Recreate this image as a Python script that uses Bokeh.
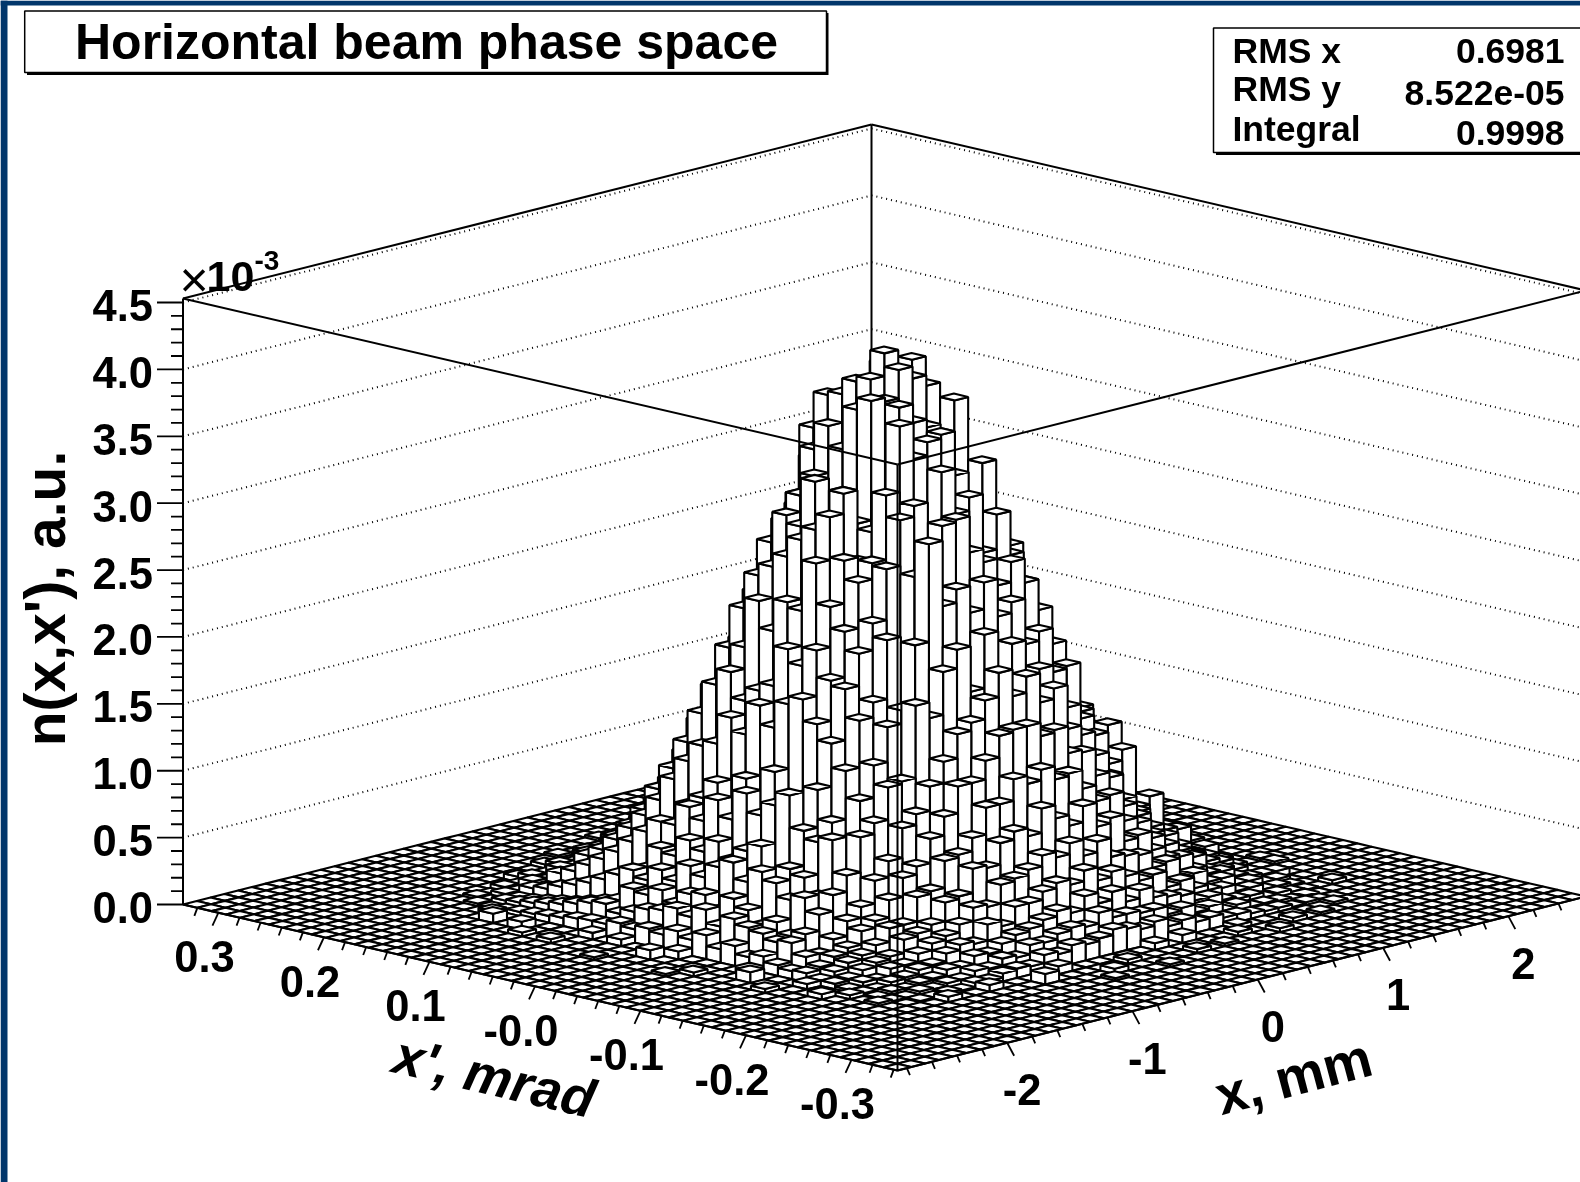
import numpy as np
from bokeh.plotting import figure
from bokeh.models import Range1d
from bokeh.core.properties import value
from bokeh.embed import file_html
from bokeh.resources import INLINE

title_text = "Horizontal beam phase space"
stat_names = ["RMS x", "RMS y", "Integral"]
stat_values = ["0.6981", "8.522e-05", "0.9998"]
z_ticks = [0.0, 0.5, 1.0, 1.5, 2.0, 2.5, 3.0, 3.5, 4.0, 4.5]
z_labels = ["0.0", "0.5", "1.0", "1.5", "2.0", "2.5", "3.0", "3.5", "4.0", "4.5"]
xp_ticks = [0.3, 0.2, 0.1, 0.0, -0.1, -0.2, -0.3]
xp_labels = ["0.3", "0.2", "0.1", "-0.0", "-0.1", "-0.2", "-0.3"]
x_ticks = [-2, -1, 0, 1, 2]
x_labels = ["-2", "-1", "0", "1", "2"]

# axis limits: x' (mrad), x (mm), n (1e-3 a.u.)
XP_BACK, XP_FRONT = 0.3336, -0.3436
X_FRONT, X_BACK = -2.875, 2.62
Z_MAX = 4.53
N_BINS = 50
I0, J0 = 9, 10  # first bin of the main patch

# bin contents in 1e-5 a.u.; row = x' bin, column = x bin
heights = [
[0,2,1,4,3,7,6,11,9,16,13,20,16,25,19,27,20,24,18,23,15,19,11,14,8,10,5,6,2,3,1,1],
[2,1,4,3,8,6,13,11,19,16,27,22,33,26,37,29,38,28,35,33,22,27,17,20,11,14,7,9,4,5,2,1],
[1,4,3,8,6,14,11,22,18,31,26,41,34,47,40,52,42,49,38,45,31,37,24,28,16,18,10,11,5,6,2,3],
[2,5,4,10,9,18,15,29,25,42,36,55,46,64,54,70,57,68,52,61,44,50,33,37,22,25,14,15,7,8,3,4],
[3,7,6,14,12,25,21,39,34,56,48,73,62,88,71,94,76,92,70,83,58,68,45,50,30,34,18,20,10,11,4,5],
[4,9,8,18,16,32,28,50,45,74,63,96,80,115,92,124,98,120,92,108,76,88,58,65,40,43,24,26,14,14,6,7],
[5,11,10,22,20,40,35,62,56,92,80,122,104,146,118,158,124,150,118,138,98,112,74,82,50,54,31,33,17,18,8,9],
[6,14,13,27,25,50,45,76,70,114,100,150,128,180,148,196,156,190,146,170,122,138,92,100,62,68,38,41,21,22,10,11],
[8,17,16,33,31,60,54,94,84,138,120,182,152,218,178,238,186,230,176,206,148,166,112,122,75,82,46,49,26,27,12,13],
[9,19,19,39,37,70,64,110,100,162,142,214,180,258,208,280,220,270,206,242,172,196,132,142,88,96,54,58,30,32,15,15],
[9,14,30,34,55,70,82,124,118,172,165,228,214,276,262,318,268,322,246,262,214,206,150,160,108,92,74,55,46,28,22,12],
[12,18,28,44,52,86,90,128,179,195,246,236,268,298,346,330,340,296,330,268,250,240,172,182,116,122,80,60,52,34,18,20],
[10,22,34,38,66,78,104,150,160,232,255,291,303,335,373,350,360,336,350,290,300,246,220,196,124,134,70,82,38,42,26,14],
[13,24,26,52,60,96,88,140,170,212,265,285,320,355,376,368,380,350,376,330,280,276,210,222,140,120,92,68,56,34,24,18],
[11,28,36,46,70,84,112,164,176,236,280,321,300,340,388,380,396,370,390,340,322,280,248,212,128,148,84,90,44,48,20,24],
[16,24,38,56,58,106,98,150,206,232,290,296,312,372,392,409,372,399,345,350,300,290,226,232,158,130,104,76,58,36,30,16],
[12,32,28,62,68,92,122,170,196,270,302,317,292,381,378,399,390,382,342,360,298,280,230,224,146,156,86,92,46,52,22,26],
[18,22,40,50,74,102,100,176,210,240,272,268,288,310,376,362,356,348,371,300,316,256,252,206,150,138,110,72,62,38,26,18],
[10,30,34,60,56,112,108,160,190,224,258,270,318,367,340,350,353,320,300,324,270,250,220,196,138,148,84,92,44,50,28,22],
[15,26,24,54,62,88,116,148,186,210,230,268,302,310,286,330,296,306,262,288,234,232,180,176,134,128,96,70,52,40,20,24],
[9,24,30,44,58,82,94,130,165,176,220,210,262,240,295,297,270,260,240,255,237,214,186,160,130,116,74,84,40,42,24,16],
[12,20,22,48,46,86,82,110,134,160,170,216,289,240,250,230,250,222,230,196,203,170,172,130,110,120,72,60,46,30,22,18],
[8,22,26,38,50,62,88,96,120,122,176,164,196,210,176,216,184,204,170,180,136,146,118,120,96,104,58,64,36,34,14,16],
[6,14,13,22,33,41,58,70,92,100,118,134,152,158,172,190,170,182,160,168,135,128,110,92,72,60,46,36,27,18,14,9],
[7,9,14,18,28,33,46,60,66,84,98,118,118,132,148,150,150,140,142,122,120,100,96,72,62,46,42,28,22,15,12,7],
[4,8,12,15,20,30,30,48,50,70,72,82,102,102,118,112,120,110,112,98,86,88,66,62,48,40,28,26,14,12,9,5],
[4,5,9,12,14,24,26,30,44,46,64,62,78,84,78,96,86,78,90,72,76,56,58,44,36,34,22,16,15,9,6,5],
[2,5,4,10,10,16,21,24,30,40,38,52,54,58,66,62,70,58,66,52,50,48,36,38,22,24,15,15,8,8,4,4],
[2,2,5,6,9,10,16,20,18,30,26,38,38,44,48,44,52,42,46,40,34,36,24,26,18,14,13,8,8,4,4,2],
[1,3,2,4,5,9,8,14,13,18,22,24,28,32,28,38,30,36,26,32,24,22,20,14,14,9,7,7,3,4,2,1],
[1,1,3,2,4,4,8,7,12,10,17,16,20,22,20,28,22,22,20,20,14,16,10,12,6,8,4,4,3,1,2,0],
[0,1,1,2,1,4,3,6,7,6,12,10,14,12,14,18,16,13,16,10,12,8,9,6,6,4,3,3,1,2,1,0],
]

# sparse low counts around the main patch: bin indices and contents (1e-5 a.u.)
outer_i = [7,8,6,8,7,5,8,6,7,8, 6,8,7,5,8,7,6,8, 41,42,41,43,42,41,44,42,41,43, 42,41,43,41,42,44,41,43,
           12,15,18,21,24,27,30,33,36,39, 11,14,17,20,23,26,29,32,35,38, 13,16,19,22,25,28,31,34,37, 15,18,21,24,27,30,33]
outer_j = [18,22,25,28,31,24,35,20,27,38, 33,15,40,29,26,21,37,30, 20,24,27,30,18,33,25,36,15,22, 38,29,28,12,32,21,40,34,
           9,8,7,9,8,6,9,7,8,9, 42,43,44,42,45,43,42,44,42,43, 8,7,9,6,9,7,8,9,9, 43,42,44,45,43,42,44]
outer_h = [3,5,4,6,3,2,4,2,5,3, 2,4,2,1,7,3,2,5, 6,3,5,2,8,3,2,3,5,4, 2,6,3,4,3,2,2,3,
           4,6,3,5,7,2,5,3,4,2, 6,3,2,5,2,4,6,2,5,3, 7,3,5,2,6,3,8,4,3, 2,5,2,1,4,6,2]

# projection corners on the page
L0 = np.array([182.5, 904.0])   # x'=XP_BACK, x=X_FRONT, z=0
F0 = np.array([897.0, 1070.0])  # x'=XP_FRONT, x=X_FRONT
B0 = np.array([871.0, 730.0])   # x'=XP_BACK, x=X_BACK
Z_PX = 606.0

def proj(xp, xm, z):
    a = (XP_BACK - xp) / (XP_BACK - XP_FRONT)
    b = (xm - X_FRONT) / (X_BACK - X_FRONT)
    pt = L0 + a * (F0 - L0) + b * (B0 - L0)
    return pt[0], pt[1] - z / Z_MAX * Z_PX

FONT = value("Liberation Sans")
BLUE = "#01366b"

p = figure(width=1580, height=1182, x_range=Range1d(0, 1580), y_range=Range1d(1182, 0),
           toolbar_location=None, output_backend="svg", min_border=0)
p.axis.visible = False
p.grid.visible = False
p.outline_line_color = None
p.background_fill_color = "white"
p.border_fill_color = "white"
p.styles = {"position": "fixed", "left": "0px", "top": "0px"}

def segs(pairs, **kw):
    p.multi_line([[a[0], b[0]] for a, b in pairs], [[a[1], b[1]] for a, b in pairs],
                 line_color="black", **kw)

# page frame
p.quad(left=[0, 0], right=[7, 1580], top=[0, 0], bottom=[1182, 5], fill_color=BLUE, line_color=None)

# back walls
dotted = []
for z in z_ticks[1:]:
    dotted.append((proj(XP_BACK, X_FRONT, z), proj(XP_BACK, X_BACK, z)))
    dotted.append((proj(XP_BACK, X_BACK, z), proj(XP_FRONT, X_BACK, z)))
segs(dotted, line_width=2, line_dash="1 4")
tops = Z_MAX
segs([(proj(XP_BACK, X_FRONT, tops), proj(XP_BACK, X_BACK, tops)),
      (proj(XP_BACK, X_BACK, tops), proj(XP_FRONT, X_BACK, tops)),
      (proj(XP_BACK, X_BACK, 0), proj(XP_BACK, X_BACK, tops))], line_width=2)

# lego columns, back to front
grid = np.zeros((N_BINS, N_BINS))
grid[I0:I0 + len(heights), J0:J0 + len(heights[0])] = np.array(heights) / 100.0
for a_i, a_j, a_h in zip(outer_i, outer_j, outer_h):
    grid[a_i, a_j] = a_h / 100.0
xp_edges = np.linspace(XP_BACK, XP_FRONT, N_BINS + 1)
x_edges = np.linspace(X_FRONT, X_BACK, N_BINS + 1)
xs, ys = [], []
for i in range(N_BINS):
    for j in range(N_BINS - 1, -1, -1):
        h = grid[i, j]
        c00 = (xp_edges[i], x_edges[j])
        c10 = (xp_edges[i + 1], x_edges[j])
        c11 = (xp_edges[i + 1], x_edges[j + 1])
        c01 = (xp_edges[i], x_edges[j + 1])
        polys = [[(c00, h), (c01, h), (c11, h), (c10, h)]]
        if h > 0:
            polys.insert(0, [(c00, 0), (c10, 0), (c10, h), (c00, h)])
            polys.insert(1, [(c10, 0), (c11, 0), (c11, h), (c10, h)])
        for poly in polys:
            pts = [proj(c[0], c[1], z) for c, z in poly]
            xs.append([q[0] for q in pts])
            ys.append([q[1] for q in pts])
p.patches(xs, ys, fill_color="white", line_color="black", line_width=2.1)

# front of the box, axes and ticks
segs([(proj(XP_BACK, X_FRONT, tops), proj(XP_FRONT, X_FRONT, tops)),
      (proj(XP_FRONT, X_FRONT, tops), proj(XP_FRONT, X_BACK, tops)),
      (proj(XP_FRONT, X_FRONT, 0), proj(XP_FRONT, X_FRONT, tops)),
      (proj(XP_BACK, X_FRONT, 0), proj(XP_BACK, X_FRONT, tops)),
      (proj(XP_BACK, X_FRONT, 0), proj(XP_FRONT, X_FRONT, 0)),
      (proj(XP_FRONT, X_FRONT, 0), proj(XP_FRONT, X_BACK, 0))], line_width=2)

tk = []
for k in range(46):
    z = k / 10
    a = proj(XP_BACK, X_FRONT, z)
    tk.append((a, (a[0] - (26 if k % 5 == 0 else 12), a[1])))
for k in range(-17, 17):
    v = k * 0.02
    a = proj(v, X_FRONT, 0)
    d = (-6, 13) if k % 5 == 0 else (-3, 8)
    tk.append((a, (a[0] + d[0], a[1] + d[1])))
for k in range(-14, 14):
    v = k * 0.2
    a = proj(XP_FRONT, v, 0)
    d = (7, 13) if k % 5 == 0 else (3, 7)
    tk.append((a, (a[0] + d[0], a[1] + d[1])))
segs(tk, line_width=1.8)

def label(x, y, texts, size, align="center", angle=0.0, style="bold"):
    p.text(x, y, text=texts, text_font=FONT, text_font_size=value(f"{size}px"),
           text_font_style=style, text_align=align, text_baseline="middle",
           text_color="black", angle=angle)

zp = [proj(XP_BACK, X_FRONT, z) for z in z_ticks]
label([q[0] - 30 for q in zp], [q[1] + 3 for q in zp], z_labels, 43.5, align="right")
xpp = [proj(v, X_FRONT, 0) for v in xp_ticks]
label([q[0] - 14 for q in xpp], [q[1] + 44 for q in xpp], xp_labels, 43.5)
xmp = [proj(XP_FRONT, v, 0) for v in x_ticks]
label([q[0] + 15 for q in xmp], [q[1] + 47 for q in xmp], x_labels, 43.5)

label([494], [1076], ["x', mrad"], 54, angle=-0.23, style="bold italic")
label([1293], [1076], ["x, mm"], 55, angle=0.26)
label([44], [598], ["n(x,x'), a.u."], 57, angle=np.pi / 2)

# exponent
label([179], [279], ["\u00d7"], 50, align="left", style="normal")
label([206], [276], ["10"], 43, align="left")
label([254], [260], ["-3"], 28, align="left")

# title box and statistics box
p.quad(left=[26.5], right=[828], top=[12.5], bottom=[74.5], fill_color="black", line_color=None)
p.quad(left=[24.2], right=[826], top=[10.5], bottom=[72], fill_color="white", line_color="black", line_width=1.5)
label([426], [41], [title_text], 50)

p.quad(left=[1215.5], right=[1590], top=[30], bottom=[154.5], fill_color="black", line_color=None)
p.quad(left=[1213], right=[1590], top=[27.5], bottom=[152], fill_color="white", line_color="black", line_width=1.5)
label([1232] * 3, [50, 88, 128], stat_names, 35.5, align="left")
label([1564] * 3, [50, 92, 132], stat_values, 35.5, align="right")

open("out.html", "w").write(file_html(p, INLINE))
